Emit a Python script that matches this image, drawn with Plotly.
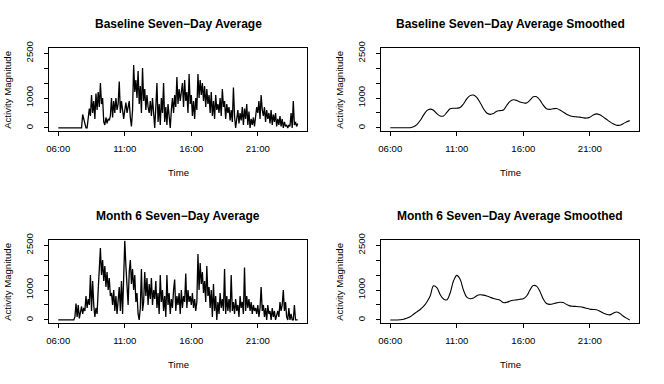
import plotly.graph_objects as go

# ---------------- data ----------------
# 5-minute grid from 06:00 to 24:00 (217 points)
baseline_raw = [
    0,0,0,0,0,0,0,0,0,0,0,0,                                   # 06
    0,0,0,0,0,0,0,0,0,0,450,300,                               # 07
    80,0,0,250,650,400,1100,500,900,300,1150,600,              # 08
    1200,700,1500,800,1000,200,100,350,150,300,250,400,        # 09
    1000,350,900,500,1000,600,800,1550,500,900,650,300,        # 10
    600,850,500,700,900,350,50,600,2100,1200,1600,1000,        # 11
    1900,800,1400,500,2000,900,1300,600,1100,700,500,900,      # 12
    400,1000,300,0,700,1500,200,800,100,1000,500,1500,         # 13
    200,700,100,800,400,0,600,1000,500,1100,700,1700,          # 14
    800,1300,900,1200,1500,700,1600,900,1200,500,1800,800,     # 15
    1100,400,900,300,1000,600,1800,1000,1600,1100,1500,900,    # 16
    1400,700,1300,800,1100,500,1200,400,900,300,1100,600,      # 17
    800,500,1000,400,1300,700,900,300,800,500,700,250,         # 18
    600,200,1350,400,0,300,600,150,500,250,700,100,            # 19
    650,300,800,100,550,0,300,100,350,50,400,700,              # 20
    500,900,300,1100,600,400,700,200,600,300,500,150,          # 21
    600,100,450,200,500,50,300,100,400,50,300,0,               # 22
    200,50,100,0,100,50,500,0,900,100,200,50,                  # 23
    150,
]

month6_raw = [
    0,0,0,0,0,0,0,0,0,0,0,0,                                   # 06
    0,0,0,100,550,100,500,50,300,450,200,400,                  # 07
    300,800,400,700,500,1500,300,1300,500,100,400,200,         # 08
    1000,2000,2400,1500,2000,1300,1800,1100,1600,1000,1400,800,# 09
    900,500,1000,300,800,200,700,1100,300,1300,200,2000,       # 10
    2650,1800,1300,500,1600,2000,1200,1700,1000,1500,600,900,  # 11
    200,0,400,1700,300,600,1600,800,1400,500,1200,700,         # 12
    1400,500,1000,700,1300,400,900,200,1500,600,1000,300,      # 13
    800,100,1500,500,900,200,700,400,1000,1350,300,800,        # 14
    500,900,200,1000,400,800,600,1550,400,1000,600,800,        # 15
    500,900,400,700,300,600,2200,1000,1900,1200,1600,900,      # 16
    1300,600,1800,800,1100,400,1000,100,1200,300,800,0,        # 17
    600,200,900,400,700,300,1700,200,800,300,700,250,          # 18
    1500,300,600,200,700,300,500,100,800,400,600,200,          # 19
    1750,300,800,400,700,300,600,200,500,300,400,200,          # 20
    500,100,400,1100,300,500,100,400,0,500,200,300,            # 21
    0,400,100,300,0,200,300,100,600,300,500,1000,              # 22
    300,600,100,0,400,0,200,0,0,500,0,0,                       # 23
    0,
]

# 15-minute grid for smoothed curves, 06:00 to 24:00 (73 points)
baseline_smooth = [
    5,5,5,5,            # 06
    5,5,8,40,           # 07
    110,250,430,580,    # 08
    630,590,480,400,    # 09
    400,520,640,660,    # 10
    660,680,800,970,    # 11
    1080,1100,1020,850, # 12
    650,500,455,480,    # 13
    560,580,600,750,    # 14
    890,940,920,870,    # 15
    840,835,930,1040,   # 16
    1040,930,760,640,   # 17
    620,640,650,600,    # 18
    530,460,410,380,    # 19
    370,360,340,330,    # 20
    360,430,470,440,    # 21
    370,290,210,140,    # 22
    90,90,140,200,      # 23
    245,
]

month6_smooth = [
    0,0,0,5,            # 06
    20,60,110,190,      # 07
    270,350,450,600,    # 08
    800,1140,1080,850,  # 09
    700,670,900,1300,   # 10
    1490,1360,1000,760, # 11
    710,730,810,840,    # 12
    830,800,760,720,    # 13
    690,660,580,590,    # 14
    630,660,670,690,    # 15
    710,800,1000,1150,  # 16
    1130,950,700,550,   # 17
    520,540,570,590,    # 18
    580,520,470,455,    # 19
    450,440,420,390,    # 20
    360,350,340,290,    # 21
    230,190,170,220,    # 22
    265,220,130,60,     # 23
    0,
]

time_ticks = [6, 11, 16, 21]
time_labels = ["06:00", "11:00", "16:00", "21:00"]
y_ticks = [0, 500, 1000, 1500, 2000, 2500]
y_labels = ["0", "", "1000", "", "", "2500"]

titles = [
    "Baseline Seven\u2212Day Average",
    "Baseline Seven\u2212Day Average Smoothed",
    "Month 6 Seven\u2212Day Average",
    "Month 6 Seven\u2212Day Average Smoothed",
]

# ---------------- figure ----------------
W, H = 664, 384
x_raw = [6 + i * 5 / 60 for i in range(len(baseline_raw))]
x_sm = [6 + i * 15 / 60 for i in range(len(baseline_smooth))]
x_sm6 = [6 + i * 15 / 60 for i in range(len(month6_smooth))]

fig = go.Figure()

panels = [
    (x_raw, baseline_raw, "linear", 1.3),
    (x_sm, baseline_smooth, "spline", 1.1),
    (x_raw, month6_raw, "linear", 1.3),
    (x_sm6, month6_smooth, "spline", 1.1),
]

# pixel boxes (left, right, top, bottom)
boxes = [
    (48.7, 307.3, 48.3, 131.0),
    (380.7, 639.3, 48.3, 131.0),
    (48.7, 307.3, 240.3, 323.0),
    (380.7, 639.3, 240.3, 323.0),
]

FONT = "Liberation Sans, Arial, Helvetica, sans-serif"
layout = dict(
    template="none",
    width=W, height=H,
    margin=dict(l=0, r=0, t=0, b=0, autoexpand=False),
    paper_bgcolor="white", plot_bgcolor="white",
    showlegend=False,
    font=dict(family=FONT, size=9.6, color="black"),
)
annotations = []

for i, ((xs, ys, shape, lw), (l, r, t, b)) in enumerate(zip(panels, boxes)):
    n = "" if i == 0 else str(i + 1)
    xa, ya = "x" + n, "y" + n
    fig.add_trace(go.Scatter(
        x=xs, y=ys, mode="lines", xaxis=xa, yaxis=ya,
        line=dict(color="black", width=lw, shape=shape, smoothing=1.0),
        hoverinfo="skip",
    ))
    layout["xaxis" + n] = dict(
        domain=[l / W, r / W], anchor=ya, range=[5.28, 24.72],
        tickvals=time_ticks, ticktext=time_labels, automargin=False,
        ticks="outside", ticklen=4, tickwidth=1, tickcolor="black",
        showline=True, mirror=True, linecolor="black", linewidth=1,
        showgrid=False, zeroline=False, ticklabelstandoff=4,
        tickfont=dict(size=9.6, color="black"),
    )
    layout["yaxis" + n] = dict(
        domain=[1 - b / H, 1 - t / H], anchor=xa, range=[-102.4, 2662.4],
        tickvals=y_ticks, ticktext=y_labels, tickangle=-90, automargin=False,
        ticks="outside", ticklen=4, tickwidth=1, tickcolor="black",
        showline=True, mirror=True, linecolor="black", linewidth=1,
        showgrid=False, zeroline=False, ticklabelstandoff=7,
        tickfont=dict(size=9.6, color="black"),
    )
    cx = (l + r) / 2
    cy = (t + b) / 2
    annotations.append(dict(
        text="<b>" + titles[i] + "</b>", x=cx / W, y=1 - (t - 24.5) / H,
        xref="paper", yref="paper", showarrow=False,
        xanchor="center", yanchor="middle",
        font=dict(size=12, family=FONT, color="black"),
    ))
    annotations.append(dict(
        text="Time", x=cx / W, y=1 - (b + 41.7) / H,
        xref="paper", yref="paper", showarrow=False,
        xanchor="center", yanchor="middle",
        font=dict(size=9.6, family=FONT, color="black"),
    ))
    annotations.append(dict(
        text="Activity Magnitude", x=(l - 41.5) / W, y=1 - cy / H,
        xref="paper", yref="paper", showarrow=False, textangle=-90,
        xanchor="center", yanchor="middle",
        font=dict(size=9.6, family=FONT, color="black"),
    ))

layout["annotations"] = annotations
fig.update_layout(**layout)
fig.write_html(
    "out.html",
    config={"displayModeBar": False},
    post_script="document.body.style.margin='0px';document.body.style.overflow='hidden';",
)
